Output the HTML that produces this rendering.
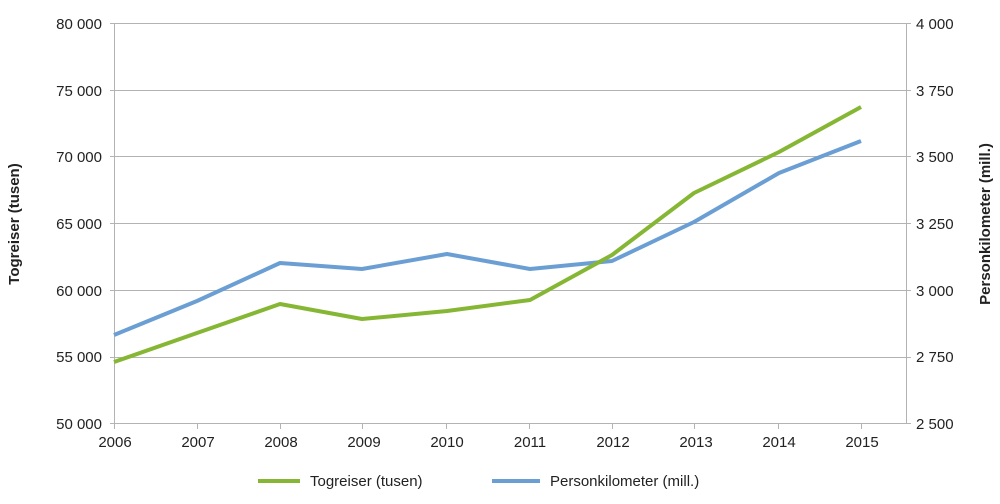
<!DOCTYPE html>
<html><head><meta charset="utf-8"><style>
body{margin:0;background:#fff;}
svg{display:block;font-family:"Liberation Sans",Arial,sans-serif;}
</style></head><body>
<svg width="1000" height="504" viewBox="0 0 1000 504" xmlns="http://www.w3.org/2000/svg">
<g stroke="#b3b3b3" stroke-width="1">
<line x1="110" y1="23.5" x2="911" y2="23.5"/>
<line x1="110" y1="90.5" x2="911" y2="90.5"/>
<line x1="110" y1="156.5" x2="911" y2="156.5"/>
<line x1="110" y1="223.5" x2="911" y2="223.5"/>
<line x1="110" y1="290.5" x2="911" y2="290.5"/>
<line x1="110" y1="357.5" x2="911" y2="357.5"/>
<line x1="110" y1="423.5" x2="911" y2="423.5"/>
<line x1="114.5" y1="23" x2="114.5" y2="429"/>
<line x1="906.5" y1="23" x2="906.5" y2="423"/>
<line x1="197.5" y1="423" x2="197.5" y2="429"/>
<line x1="280.5" y1="423" x2="280.5" y2="429"/>
<line x1="362.5" y1="423" x2="362.5" y2="429"/>
<line x1="446.5" y1="423" x2="446.5" y2="429"/>
<line x1="529.5" y1="423" x2="529.5" y2="429"/>
<line x1="612.5" y1="423" x2="612.5" y2="429"/>
<line x1="694.5" y1="423" x2="694.5" y2="429"/>
<line x1="778.5" y1="423" x2="778.5" y2="429"/>
<line x1="861.5" y1="423" x2="861.5" y2="429"/>
</g>
<g font-size="15" fill="#222" text-anchor="end">
<text x="102" y="29">80 000</text><text x="102" y="96">75 000</text><text x="102" y="162">70 000</text>
<text x="102" y="229">65 000</text><text x="102" y="296">60 000</text><text x="102" y="362">55 000</text>
<text x="102" y="429">50 000</text>
</g>
<g font-size="15" fill="#222" text-anchor="start">
<text x="916" y="29">4 000</text><text x="916" y="96">3 750</text><text x="916" y="162">3 500</text>
<text x="916" y="229">3 250</text><text x="916" y="296">3 000</text><text x="916" y="362">2 750</text>
<text x="916" y="429">2 500</text>
</g>
<g font-size="15" fill="#222" text-anchor="middle">
<text x="115" y="447">2006</text><text x="198" y="447">2007</text><text x="281" y="447">2008</text>
<text x="364" y="447">2009</text><text x="447" y="447">2010</text><text x="530" y="447">2011</text>
<text x="613" y="447">2012</text><text x="696" y="447">2013</text><text x="779" y="447">2014</text>
<text x="862" y="447">2015</text>
</g>
<text transform="translate(19,224) rotate(-90)" font-size="15" font-weight="bold" text-anchor="middle" fill="#222">Togreiser (tusen)</text>
<text transform="translate(990,224) rotate(-90)" font-size="15" font-weight="bold" text-anchor="middle" fill="#222">Personkilometer (mill.)</text>
<polyline fill="none" stroke="#6b9fd4" stroke-width="4" stroke-linejoin="round" points="114,335 197,301 280,263 362,269 447,254 530,269 612,261 694,222 779,173 861,141"/>
<polyline fill="none" stroke="#86b734" stroke-width="4" stroke-linejoin="round" points="114,362 197,333 280,304 362,319 447,311 530,300 612,255 694,193 779,152 861,107"/>
<line x1="258" y1="481" x2="300" y2="481" stroke="#86b734" stroke-width="4"/>
<text x="310" y="486" font-size="15" fill="#222">Togreiser (tusen)</text>
<line x1="492" y1="481" x2="540" y2="481" stroke="#6b9fd4" stroke-width="4"/>
<text x="550" y="486" font-size="15" fill="#222">Personkilometer (mill.)</text>
</svg>
</body></html>
